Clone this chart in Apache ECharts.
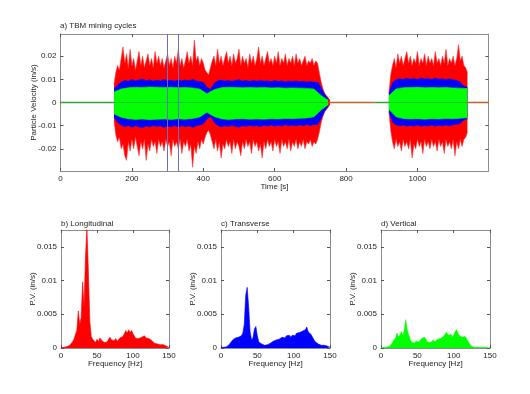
<!DOCTYPE html>
<html><head><meta charset="utf-8">
<script src="https://cdn.jsdelivr.net/npm/echarts@6/dist/echarts.min.js"></script>
<style>html,body{margin:0;padding:0;background:#fff}#c{width:530px;height:394px}</style>
</head><body><div id="c"></div>
<script>
// ---------- Panel a) time series envelopes (in/s) ----------
const seg1RedStart = 150, seg1RedStep = 5;
const seg1RedUpper = [
 0.008,0.013,0.016,0.014,0.019,0.024,0.017,0.021,0.015,0.023,
 0.016,0.019,0.014,0.018,0.022,0.016,0.02,0.015,0.018,0.021,
 0.016,0.019,0.015,0.022,0.017,0.02,0.016,0.019,0.015,0.018,
 0.021,0.016,0.019,0.015,0.02,0.017,0.023,0.016,0.019,0.015,
 0.018,0.022,0.017,0.02,0.016,0.027,0.018,0.02,0.016,0.019,
 0.017,0.014,0.013,0.012,0.015,0.018,0.02,0.016,0.023,0.017,
 0.02,0.016,0.019,0.022,0.017,0.02,0.016,0.021,0.017,0.019,
 0.023,0.016,0.02,0.017,0.019,0.015,0.021,0.017,0.02,0.016,
 0.019,0.024,0.017,0.02,0.016,0.019,0.022,0.017,0.019,0.016,
 0.02,0.017,0.022,0.016,0.019,0.017,0.021,0.016,0.019,0.017,
 0.02,0.016,0.021,0.017,0.019,0.016,0.018,0.02,0.016,0.018,
 0.017,0.019,0.016,0.018,0.017,0.013,0.009,0.006,0.004,0.003,
 0.002,0.001];
const seg1RedLower = [
 -0.008,-0.014,-0.017,-0.015,-0.02,-0.018,-0.023,-0.025,-0.017,-0.021,
 -0.016,-0.02,-0.015,-0.019,-0.023,-0.017,-0.02,-0.016,-0.025,-0.018,
 -0.021,-0.016,-0.019,-0.017,-0.022,-0.016,-0.019,-0.017,-0.021,-0.016,
 -0.019,-0.017,-0.023,-0.016,-0.019,-0.017,-0.02,-0.016,-0.022,-0.017,
 -0.019,-0.016,-0.021,-0.018,-0.028,-0.019,-0.022,-0.017,-0.02,-0.016,
 -0.018,-0.015,-0.013,-0.012,-0.014,-0.017,-0.02,-0.016,-0.021,-0.017,
 -0.024,-0.018,-0.02,-0.016,-0.019,-0.017,-0.022,-0.016,-0.02,-0.017,
 -0.019,-0.023,-0.017,-0.02,-0.016,-0.019,-0.017,-0.022,-0.016,-0.019,
 -0.017,-0.021,-0.018,-0.024,-0.017,-0.02,-0.016,-0.019,-0.017,-0.021,
 -0.016,-0.019,-0.017,-0.022,-0.016,-0.019,-0.017,-0.02,-0.016,-0.021,
 -0.017,-0.019,-0.016,-0.02,-0.017,-0.019,-0.016,-0.02,-0.017,-0.018,
 -0.016,-0.019,-0.017,-0.018,-0.016,-0.013,-0.009,-0.006,-0.004,-0.003,
 -0.002,-0.001];
const seg1BlueStart = 150, seg1BlueStep = 10;
const seg1BlueUpper = [
 0.006,0.0075,0.0088,0.0095,0.0092,0.0099,0.0093,0.0097,0.0101,0.0094,
 0.0098,0.0092,0.0097,0.0093,0.0099,0.0094,0.0096,0.0092,0.0098,0.0093,
 0.0097,0.0094,0.0099,0.0093,0.0091,0.0086,0.0066,0.0056,0.0082,0.0093,
 0.0097,0.0092,0.0096,0.0091,0.0095,0.0099,0.0092,0.0096,0.0091,0.0095,
 0.0092,0.0097,0.0091,0.0094,0.009,0.0095,0.0091,0.0094,0.0089,0.0093,
 0.009,0.0094,0.0089,0.0092,0.0088,0.0091,0.0087,0.0089,0.0065,0.0035,0.0015];
const seg1BlueLower = [
 -0.0065,-0.0085,-0.0098,-0.0104,-0.0099,-0.0107,-0.01,-0.0105,-0.0109,-0.0101,
 -0.0106,-0.0099,-0.0104,-0.01,-0.0108,-0.0101,-0.0105,-0.0099,-0.0106,-0.01,
 -0.0104,-0.0101,-0.0107,-0.01,-0.0097,-0.0092,-0.0072,-0.006,-0.0085,-0.0099,
 -0.0105,-0.01,-0.0104,-0.0098,-0.0103,-0.0107,-0.0099,-0.0104,-0.0098,-0.0103,
 -0.0099,-0.0105,-0.0098,-0.0102,-0.0097,-0.0103,-0.0098,-0.0102,-0.0096,-0.0101,
 -0.0097,-0.0101,-0.0096,-0.01,-0.0095,-0.0099,-0.0094,-0.0096,-0.007,-0.0038,-0.0015];
const seg1GreenStart = 150, seg1GreenStep = 20;
const seg1GreenUpper = [
 0.0045,0.0058,0.0064,0.0066,0.0065,0.0067,0.0066,0.0065,0.0066,0.0064,
 0.0065,0.0063,0.0058,0.0038,0.0055,0.0064,0.0066,0.0065,0.0064,0.0065,
 0.0064,0.0065,0.0063,0.0064,0.0062,0.0063,0.0062,0.0061,0.0058,0.003,0.001];
const seg1GreenLower = [
 -0.005,-0.0064,-0.007,-0.0073,-0.0071,-0.0074,-0.0072,-0.0071,-0.0073,-0.007,
 -0.0072,-0.0069,-0.0063,-0.0042,-0.006,-0.007,-0.0073,-0.0071,-0.007,-0.0072,
 -0.0071,-0.0072,-0.007,-0.0071,-0.0069,-0.007,-0.0068,-0.0067,-0.0062,-0.0032,-0.001];

const seg2RedStart = 920, seg2RedStep = 5;
const seg2RedUpper = [
 0.004,0.012,0.016,0.019,0.015,0.021,0.017,0.02,0.016,0.019,
 0.022,0.017,0.02,0.016,0.019,0.017,0.022,0.016,0.019,0.017,
 0.021,0.016,0.02,0.017,0.019,0.016,0.022,0.017,0.019,0.016,
 0.02,0.017,0.023,0.016,0.019,0.017,0.02,0.016,0.019,0.025,
 0.018,0.02,0.016,0.015,0.013];
const seg2RedLower = [
 -0.004,-0.012,-0.017,-0.02,-0.016,-0.019,-0.017,-0.021,-0.016,-0.019,
 -0.017,-0.02,-0.016,-0.024,-0.018,-0.02,-0.016,-0.019,-0.017,-0.022,
 -0.016,-0.019,-0.017,-0.02,-0.016,-0.019,-0.017,-0.021,-0.016,-0.019,
 -0.017,-0.022,-0.016,-0.019,-0.017,-0.02,-0.016,-0.023,-0.017,-0.02,
 -0.016,-0.019,-0.016,-0.015,-0.013];
const seg2BlueStart = 920, seg2BlueStep = 10;
const seg2BlueUpper = [0.004,0.0085,0.0097,0.0103,0.0099,0.0105,0.01,0.0104,0.0099,0.0106,0.0101,0.0104,0.0099,0.0105,0.01,0.0103,0.0098,0.0102,0.0097,0.0095,0.0088,0.007,0.0066];
const seg2BlueLower = [-0.004,-0.0085,-0.0096,-0.0101,-0.0097,-0.0103,-0.0098,-0.0102,-0.0097,-0.0103,-0.0099,-0.0102,-0.0097,-0.0103,-0.0098,-0.0101,-0.0097,-0.01,-0.0096,-0.0094,-0.009,-0.0075,-0.007];
const seg2GreenStart = 920, seg2GreenStep = 20;
const seg2GreenUpper = [0.003,0.0058,0.0064,0.0065,0.0066,0.0064,0.0065,0.0064,0.0065,0.0063,0.0062,0.006];
const seg2GreenLower = [-0.003,-0.0062,-0.0069,-0.0071,-0.007,-0.0072,-0.007,-0.0071,-0.0069,-0.007,-0.0068,-0.0066];

// quiet (near-zero) intervals [start, end] in s
const quietGreenSpans = [[0, 150], [880, 920]];
const quietBrownSpans = [[755, 880], [1140, 1199]];
const markerTimes = [300, 330];

const timeTicks = [0, 200, 400, 600, 800, 1000];
const velTicks = [-0.02, -0.01, 0, 0.01, 0.02];

// ---------- Panels b-d) spectra ----------
const freqStep = 2; // Hz, samples at 0,2,...,150
const specLongitudinal = [
 0.0001,0.0001,0.0001,0.0002,0.0002,0.0003,0.0004,0.0006,0.0009,0.0013,
 0.002,0.0026,0.0055,0.0035,0.0045,0.0098,0.006,0.0135,0.018,0.0115,
 0.004,0.0017,0.0013,0.0011,0.0008,0.0013,0.0009,0.0015,0.0012,0.001,
 0.0008,0.0007,0.0009,0.0013,0.0016,0.0012,0.0014,0.0011,0.0014,0.001,
 0.0012,0.0015,0.0013,0.0017,0.0021,0.0026,0.0022,0.0027,0.0023,0.0026,
 0.0021,0.0019,0.0014,0.0012,0.0014,0.0013,0.0016,0.0014,0.0018,0.0015,
 0.0017,0.0014,0.0015,0.0011,0.0009,0.0007,0.0005,0.0006,0.0004,0.0005,
 0.0004,0.0005,0.0003,0.0003,0.0002,0.0001];
const specTransverse = [
 0.0001,0.0001,0.0001,0.0001,0.0002,0.0003,0.0006,0.0009,0.0012,0.0013,
 0.0015,0.0014,0.0016,0.0015,0.0018,0.0022,0.0035,0.0078,0.009,0.0062,
 0.0025,0.0012,0.0015,0.0028,0.0032,0.0018,0.0009,0.0008,0.0006,0.0005,
 0.0004,0.0004,0.0005,0.0006,0.0007,0.0009,0.001,0.0011,0.0012,0.0014,
 0.0013,0.0015,0.0016,0.0017,0.0015,0.0018,0.0017,0.0019,0.0016,0.0019,
 0.0021,0.0018,0.0022,0.002,0.0023,0.0021,0.0025,0.0023,0.0027,0.0031,
 0.0024,0.0026,0.002,0.0016,0.0012,0.0009,0.0007,0.0006,0.0005,0.0004,
 0.0005,0.0004,0.0003,0.0003,0.0002,0.0001];
const specVertical = [
 0.0001,0.0001,0.0001,0.0001,0.0001,0.0001,0.0003,0.0005,0.0008,0.0012,
 0.0015,0.0022,0.0016,0.0019,0.0024,0.0018,0.0026,0.0042,0.0027,0.002,
 0.0013,0.0009,0.0008,0.0007,0.001,0.0012,0.0009,0.0011,0.0014,0.0012,
 0.0016,0.0012,0.0009,0.0011,0.0008,0.001,0.0012,0.0009,0.0011,0.0013,
 0.0012,0.0014,0.0012,0.0017,0.0019,0.0023,0.0025,0.0018,0.0021,0.0016,
 0.0019,0.0024,0.0027,0.0022,0.0018,0.002,0.0016,0.0015,0.0017,0.0013,
 0.0012,0.0006,0.0003,0.0002,0.0001,0.0001,0.0001,0.0001,0.0001,0.0001,
 0.0001,0.0001,0.0001,0.0001,0.0001,0.0001];
const freqTicks = [0, 50, 100, 150];
const pvTicks = [0, 0.005, 0.01, 0.015];

// ---------- build ----------
const FONT = "'Liberation Sans', Arial, Helvetica, sans-serif";
const TXT = '#1e1e1e';
const BOX = '#8c8c8c';
const chart = echarts.init(document.getElementById('c'));

const grids = [
  {left: 60.5, top: 34, width: 428, height: 137},
  {left: 61, top: 230, width: 108, height: 118},
  {left: 221, top: 230, width: 109, height: 118},
  {left: 381, top: 230, width: 109, height: 118}
];
const fmt = v => String(+(+v).toFixed(4));

const xAxes = [], yAxes = [];
function addAxes(gi, xr, xt, xname, yr, yt, yname, ynameGap, xnameGap) {
  const base = {
    type: 'value', gridIndex: gi, splitLine: {show: false},
    axisLine: {show: true, onZero: false, lineStyle: {color: BOX, width: 1}},
    axisTick: {show: true, inside: true, length: 3, lineStyle: {color: '#555', width: 1}}
  };
  xAxes.push(Object.assign({}, base, {
    position: 'bottom', min: xr[0], max: xr[1],
    axisTick: Object.assign({}, base.axisTick, {customValues: xt}),
    axisLabel: {show: true, customValues: xt, fontSize: 8, color: TXT, fontFamily: FONT, margin: 4, formatter: fmt},
    name: xname, nameLocation: 'middle', nameGap: xnameGap, nameMoveOverlap: false,
    nameTextStyle: {fontSize: 8, color: TXT, fontFamily: FONT}
  }));
  xAxes.push(Object.assign({}, base, {
    position: 'top', min: xr[0], max: xr[1],
    axisTick: Object.assign({}, base.axisTick, {customValues: xt}),
    axisLabel: {show: false}
  }));
  yAxes.push(Object.assign({}, base, {
    position: 'left', min: yr[0], max: yr[1],
    axisTick: Object.assign({}, base.axisTick, {customValues: yt}),
    axisLabel: {show: true, customValues: yt, fontSize: 8, color: TXT, fontFamily: FONT, margin: 4, formatter: fmt},
    name: yname, nameLocation: 'middle', nameGap: ynameGap, nameMoveOverlap: false,
    nameTextStyle: {fontSize: 8, color: TXT, fontFamily: FONT}
  }));
  yAxes.push(Object.assign({}, base, {
    position: 'right', min: yr[0], max: yr[1],
    axisTick: Object.assign({}, base.axisTick, {customValues: yt}),
    axisLabel: {show: false}
  }));
}
addAxes(0, [0, 1199], timeTicks, 'Time [s]', [-0.0296, 0.0296], velTicks, 'Particle Velocity (in/s)', 23, 12);
addAxes(1, [0, 150], freqTicks, 'Frequency [Hz]', [0, 0.0175], pvTicks, 'P.V. (in/s)', 24, 12);
addAxes(2, [0, 150], freqTicks, 'Frequency [Hz]', [0, 0.0175], pvTicks, 'P.V. (in/s)', 24, 12);
addAxes(3, [0, 150], freqTicks, 'Frequency [Hz]', [0, 0.0175], pvTicks, 'P.V. (in/s)', 24, 12);

const series = [];
function band(start, step, vals, color, lineColor) {
  series.push({
    type: 'line', xAxisIndex: 0, yAxisIndex: 0, symbol: 'none', silent: true,
    data: vals.map((v, i) => [start + i * step, v]),
    lineStyle: {color: lineColor, width: 0.6},
    areaStyle: {color: color, opacity: 1}
  });
}
const RED = '#ff0000', BLUE = '#0000ff', GREEN = '#00ff00';
band(seg1RedStart, seg1RedStep, seg1RedUpper, RED, '#ff3030');
band(seg1RedStart, seg1RedStep, seg1RedLower, RED, '#ff3030');
band(seg2RedStart, seg2RedStep, seg2RedUpper, RED, '#ff3030');
band(seg2RedStart, seg2RedStep, seg2RedLower, RED, '#ff3030');
band(seg1BlueStart, seg1BlueStep, seg1BlueUpper, BLUE, BLUE);
band(seg1BlueStart, seg1BlueStep, seg1BlueLower, BLUE, BLUE);
band(seg2BlueStart, seg2BlueStep, seg2BlueUpper, BLUE, BLUE);
band(seg2BlueStart, seg2BlueStep, seg2BlueLower, BLUE, BLUE);
band(seg1GreenStart, seg1GreenStep, seg1GreenUpper, GREEN, GREEN);
band(seg1GreenStart, seg1GreenStep, seg1GreenLower, GREEN, GREEN);
band(seg2GreenStart, seg2GreenStep, seg2GreenUpper, GREEN, GREEN);
band(seg2GreenStart, seg2GreenStep, seg2GreenLower, GREEN, GREEN);

quietBrownSpans.forEach(s => series.push({
  type: 'line', xAxisIndex: 0, yAxisIndex: 0, symbol: 'none', silent: true,
  data: [[s[0], 0], [s[1], 0]], lineStyle: {color: '#b8642a', width: 1.3}
}));
quietGreenSpans.forEach(s => series.push({
  type: 'line', xAxisIndex: 0, yAxisIndex: 0, symbol: 'none', silent: true,
  data: [[s[0], 0], [s[1], 0]], lineStyle: {color: '#34a034', width: 1.5}
}));
series.push({
  type: 'line', xAxisIndex: 0, yAxisIndex: 0, symbol: 'none', silent: true, data: [],
  markLine: {silent: true, symbol: 'none', label: {show: false}, animation: false,
    lineStyle: {color: '#6c6cc4', width: 1, type: 'solid'},
    data: markerTimes.map(t => ({xAxis: t}))}
});

function spec(gi, vals, color) {
  series.push({
    type: 'line', xAxisIndex: 2 * gi, yAxisIndex: 2 * gi, symbol: 'none', silent: true,
    data: vals.map((v, i) => [i * freqStep, v]),
    lineStyle: {color: color, width: 0.6},
    areaStyle: {color: color, opacity: 1}
  });
}
spec(1, specLongitudinal, RED);
spec(2, specTransverse, BLUE);
spec(3, specVertical, GREEN);

const tStyle = {fontSize: 8, fontWeight: 'normal', color: TXT, fontFamily: FONT};
chart.setOption({
  animation: false,
  backgroundColor: '#fff',
  title: [
    {text: 'a) TBM mining cycles', left: 60, top: 22, padding: 0, textStyle: tStyle},
    {text: 'b) Longitudinal', left: 61, top: 220, padding: 0, textStyle: tStyle},
    {text: 'c) Transverse', left: 221, top: 220, padding: 0, textStyle: tStyle},
    {text: 'd) Vertical', left: 381, top: 220, padding: 0, textStyle: tStyle}
  ],
  grid: grids,
  xAxis: xAxes,
  yAxis: yAxes,
  series: series
});
</script></body></html>
